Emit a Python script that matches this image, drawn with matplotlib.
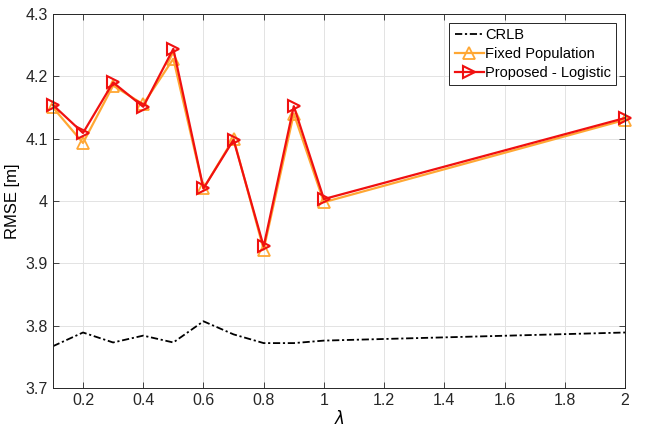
import matplotlib
matplotlib.use('Agg')
import matplotlib.pyplot as plt

plt.rcParams['font.family'] = ['Liberation Sans', 'DejaVu Sans']

# lambda values and RMSE for each method
lam = [0.1, 0.2, 0.3, 0.4, 0.5, 0.6, 0.7, 0.8, 0.9, 1.0, 2.0]
crlb = [3.767, 3.789, 3.773, 3.784, 3.773, 3.807, 3.786, 3.772, 3.772, 3.776, 3.789]
fixed_pop = [4.150, 4.093, 4.185, 4.155, 4.228, 4.020, 4.100, 3.922, 4.140, 3.998, 4.130]
proposed = [4.154, 4.109, 4.190, 4.151, 4.244, 4.020, 4.098, 3.927, 4.152, 4.003, 4.133]

fig = plt.figure(figsize=(6.45, 4.34), dpi=100)
ax = fig.add_axes([0.082, 0.106, 0.887, 0.862])

ax.plot(lam, crlb, color='black', linestyle=(0, (4, 1.5, 1.2, 1.5)), linewidth=1.3,
        label='CRLB')
ax.plot(lam, fixed_pop, color='#FFA733', linewidth=1.6, marker='^', markersize=8,
        markerfacecolor='none', markeredgewidth=1.3, label='Fixed Population',
        clip_on=False)
ax.plot(lam, proposed, color='#F01010', linewidth=1.6, marker='>', markersize=8,
        markerfacecolor='none', markeredgewidth=1.5, label='Proposed - Logistic',
        clip_on=False)

ax.set_xlim(0.1, 2)
ax.set_ylim(3.7, 4.3)
ax.set_xticks([0.2, 0.4, 0.6, 0.8, 1, 1.2, 1.4, 1.6, 1.8, 2])
ax.set_xticklabels(['0.2', '0.4', '0.6', '0.8', '1', '1.2', '1.4', '1.6', '1.8', '2'])
ax.set_yticks([3.7, 3.8, 3.9, 4.0, 4.1, 4.2, 4.3])
ax.set_yticklabels(['3.7', '3.8', '3.9', '4', '4.1', '4.2', '4.3'])
ax.tick_params(direction='in', top=True, right=True, labelsize=11.5, colors='#262626',
               length=4, width=0.6)
ax.grid(True, color='#E3E3E3', linewidth=0.7)
ax.set_axisbelow(True)
for s in ax.spines.values():
    s.set_color('#262626')
    s.set_linewidth(0.7)

ax.set_xlabel(r'$\lambda$', fontsize=12, labelpad=1)
ax.set_ylabel('RMSE [m]', fontsize=12, labelpad=4)

leg = ax.legend(loc='upper right', fontsize=10.5, fancybox=False, framealpha=1,
                edgecolor='#262626', borderpad=0.35, labelspacing=0.35,
                handlelength=2.0, handletextpad=0.1, borderaxespad=0.6)
leg.get_frame().set_linewidth(0.7)

fig.savefig('out.png', dpi=100)
